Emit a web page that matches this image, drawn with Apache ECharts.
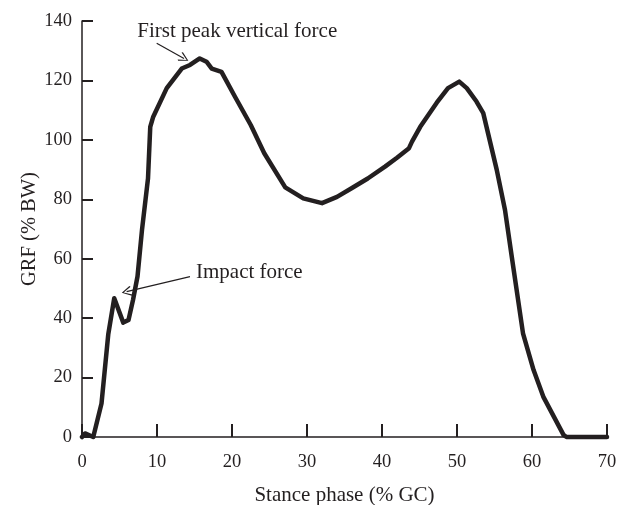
<!DOCTYPE html>
<html>
<head>
<meta charset="utf-8">
<script src="https://cdn.jsdelivr.net/npm/echarts@6/dist/echarts.min.js"></script>
<style>
  html, body { margin: 0; padding: 0; background: #fff; }
  #chart { width: 627px; height: 505px; }
</style>
</head>
<body>
<div id="chart"></div>
<script>
// Vertical ground reaction force over the stance phase
const stancePct = [0, 0.4, 1.5, 2.6, 3.5, 4.3, 5.5, 6.2, 6.8, 7.4, 8.0, 8.8, 9.1, 9.5, 11.3, 13.3, 14.4, 15.7, 16.6, 17.3, 18.6, 20.4, 22.5, 24.3, 27.1, 29.5, 32.0, 34.0, 36.0, 38.1, 40.4, 42.0, 43.6, 44.0, 45.1, 47.3, 48.8, 50.3, 51.3, 52.6, 53.5, 55.3, 56.4, 57.3, 58.8, 60.2, 61.5, 64.2, 64.6, 70];
const grfPctBW  = [0, 1.2, 0, 11.3, 34.5, 46.7, 38.5, 39.4, 46.1, 54, 69.7, 87, 104.4, 107.8, 117.4, 124, 125.2, 127.4, 126.3, 124, 122.9, 114.5, 105, 95.5, 84, 80.3, 78.7, 80.8, 83.8, 87, 91, 94, 97.2, 99.4, 104.4, 112.5, 117.4, 119.6, 117.4, 112.9, 109, 89.9, 76.4, 60.7, 34.9, 22.6, 13.6, 0.7, 0, 0];

const xTicks = { min: 0, max: 70, step: 10 };
const yTicks = { min: 0, max: 140, step: 20 };

// Annotation texts with anchor positions and arrows (data units)
const peakNote   = { text: 'First peak vertical force', at: [20.7, 136.6], from: [9.96, 132.5], to: [13.6, 127.4] };
const impactNote = { text: 'Impact force', at: [15.2, 55.5], from: [14.4, 54.0], to: [5.95, 48.9] };

const serif = 'Liberation Serif';
const ink = '#231f20';
// open chevron arrow head
const chevron = 'path://M5,0 L10,9 L9,10 L5,2 L1,10 L0,9 Z';

const chart = echarts.init(document.getElementById('chart'), null, { renderer: 'canvas' });

chart.setOption({
  backgroundColor: '#fff',
  animation: false,
  grid: { left: 82, right: 20, top: 21, bottom: 68, containLabel: false, outerBoundsMode: 'none' },
  xAxis: {
    type: 'value',
    min: xTicks.min, max: xTicks.max, interval: xTicks.step,
    name: 'Stance phase (% GC)',
    nameLocation: 'middle', nameGap: 48, nameMoveOverlap: false,
    nameTextStyle: { fontFamily: serif, fontSize: 21, color: ink },
    axisLine: { lineStyle: { color: ink, width: 1.5 } },
    axisTick: { inside: true, length: 13, lineStyle: { color: ink, width: 2 } },
    axisLabel: { fontFamily: serif, fontSize: 18.5, color: ink, margin: 16 },
    splitLine: { show: false }
  },
  yAxis: {
    type: 'value',
    min: yTicks.min, max: yTicks.max, interval: yTicks.step,
    name: 'GRF (% BW)',
    nameLocation: 'middle', nameGap: 42, nameMoveOverlap: false,
    nameTextStyle: { fontFamily: serif, fontSize: 20.5, color: ink },
    axisLine: { lineStyle: { color: ink, width: 1.5 } },
    axisTick: { inside: true, length: 11, lineStyle: { color: ink, width: 2 } },
    axisLabel: { fontFamily: serif, fontSize: 18.5, color: ink, margin: 10 },
    splitLine: { show: false }
  },
  series: [{
    type: 'line',
    data: stancePct.map((x, i) => [x, grfPctBW[i]]),
    showSymbol: false,
    smooth: false,
    clip: false,
    lineStyle: { color: ink, width: 4.5, join: 'round', cap: 'round' },
    markLine: {
      silent: true,
      symbol: ['none', chevron],
      symbolSize: [10, 10],
      lineStyle: { color: ink, width: 1.2, type: 'solid' },
      label: { show: false },
      data: [
        [{ coord: peakNote.from }, { coord: peakNote.to }],
        [{ coord: impactNote.from }, { coord: impactNote.to }]
      ]
    },
    markPoint: {
      silent: true,
      symbol: 'circle',
      symbolSize: 0,
      data: [
        { coord: peakNote.at, label: { show: true, position: 'inside', formatter: peakNote.text, fontFamily: serif, fontSize: 21, color: ink } },
        { coord: impactNote.at, label: { show: true, position: 'right', distance: 0, formatter: impactNote.text, fontFamily: serif, fontSize: 21, color: ink } }
      ]
    }
  }]
});
</script>
</body>
</html>
